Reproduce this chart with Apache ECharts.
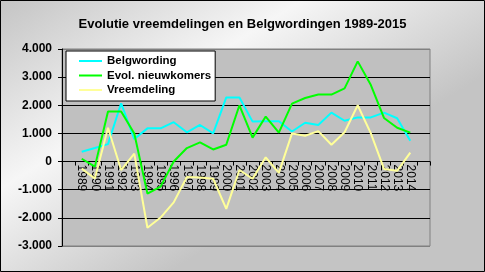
<!DOCTYPE html>
<html><head><meta charset="utf-8">
<script src="https://cdn.jsdelivr.net/npm/echarts@6/dist/echarts.min.js"></script>
<style>html,body{margin:0;padding:0;}#c{width:485px;height:272px;}</style>
</head><body><div id="c"></div>
<script>
var years = ['1989','1990','1991','1992','1993','1994','1995','1996','1997','1998','1999','2000','2001','2002','2003','2004','2005','2006','2007','2008','2009','2010','2011','2012','2013','2014'];
var belgwording = [350, 480, 620, 2070, 800, 1180, 1180, 1400, 1040, 1300, 1000, 2280, 2280, 1420, 1430, 1430, 1070, 1380, 1300, 1740, 1450, 1570, 1570, 1740, 1540, 740];
var nieuwkomers = [100, -180, 1780, 1780, 1000, -1140, -890, 0, 480, 680, 430, 600, 2000, 850, 1600, 1030, 2060, 2260, 2380, 2380, 2600, 3560, 2720, 1550, 1200, 1030];
var vreemdeling = [-250, -600, 1200, -300, 280, -2350, -1990, -1450, -550, -570, -610, -1680, -300, -610, 150, -400, 1000, 920, 1080, 600, 1040, 2000, 1000, -260, -330, 320];
var yTicks = {min: -3000, max: 4000, step: 1000};

var cats = [''].concat(years, ['']);
function pad(a){ return [null].concat(a, [null]); }

var chart = echarts.init(document.getElementById('c'), null, {renderer:'canvas'});
chart.setOption({
  animation: false,
  backgroundColor: {type:'linear', x:0, y:0, x2:0.35, y2:1, colorStops:[
    {offset:0, color:'#c4c4c4'}, {offset:0.5, color:'#f6f6f6'}, {offset:1, color:'#c4c4c4'}]},
  title: {text:'Evolutie vreemdelingen en Belgwordingen 1989-2015', left:'center', top:13,
    textStyle:{fontFamily:'Liberation Sans, Arial', fontSize:13, fontWeight:'bold', color:'#000'}},
  legend: {left:66, top:51, orient:'vertical', backgroundColor:'#fff', borderColor:'#000', borderWidth:1,
    padding:[4,4,5,12], itemWidth:23, itemHeight:12, itemGap:2.5, borderRadius:0,
    itemStyle:{opacity:0},
    textStyle:{fontFamily:'Liberation Sans, Arial', fontSize:11.5, fontWeight:'bold', color:'#000'},
    data:['Belgwording','Evol. nieuwkomers','Vreemdeling']},
  grid: {left:62, right:55, top:49, bottom:26, show:true, backgroundColor:'#c0c0c0', borderColor:'#808080', borderWidth:1,
    containLabel:false, outerBoundsMode:'none'},
  xAxis: {type:'category', data:cats, boundaryGap:true, offset:0,
    axisLine:{onZero:true, lineStyle:{color:'#000', width:1}},
    axisTick:{show:true, length:4, alignWithLabel:false, interval:0, lineStyle:{color:'#000'}},
    axisLabel:{interval:0, rotate:-90, margin:3, color:'#000', fontFamily:'Liberation Sans, Arial', fontSize:12},
    splitLine:{show:false}},
  yAxis: {type:'value', min:yTicks.min, max:yTicks.max, interval:yTicks.step,
    axisLine:{show:true, onZero:false, lineStyle:{color:'#000'}},
    axisTick:{show:true, length:4, lineStyle:{color:'#000'}},
    axisLabel:{margin:10, color:'#000', fontFamily:'Liberation Sans, Arial', fontSize:12, fontWeight:'bold',
      formatter:function(v){ var s=Math.abs(v).toString(); if(Math.abs(v)>=1000){s=s.slice(0,s.length-3)+'.'+s.slice(-3);} return (v<0?'-':'')+s; }},
    splitLine:{show:true, lineStyle:{color:['#808080','#000','#000','#000','#000','#000','#000','#808080'], width:1}}},
  series: [
    {name:'Belgwording', type:'line', data:pad(belgwording), symbol:'none', lineStyle:{color:'#00ffff', width:2}, itemStyle:{color:'#00ffff'}},
    {name:'Evol. nieuwkomers', type:'line', data:pad(nieuwkomers), symbol:'none', lineStyle:{color:'#00ff00', width:2}, itemStyle:{color:'#00ff00'}},
    {name:'Vreemdeling', type:'line', data:pad(vreemdeling), symbol:'none', lineStyle:{color:'#ffff99', width:2}, itemStyle:{color:'#ffff99'}}
  ],
  graphic: [{type:'rect', z:100, silent:true, shape:{x:0.5, y:0.5, width:484, height:271}, style:{fill:null, stroke:'#000', lineWidth:1}}]
});
// place the category axis on the zero line using the library's own y scale
var yZero = chart.convertToPixel({yAxisIndex:0}, 0);
var yBottom = chart.convertToPixel({yAxisIndex:0}, yTicks.min);
chart.setOption({xAxis:{offset: -(yBottom - yZero)}});
</script></body></html>
